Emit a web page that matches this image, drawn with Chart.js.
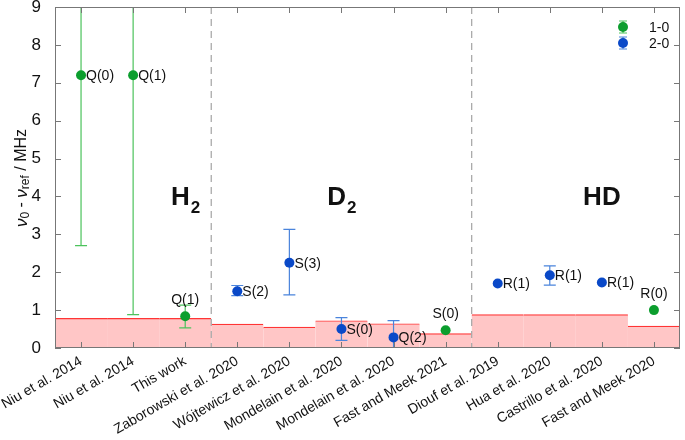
<!DOCTYPE html>
<html>
<head>
<meta charset="utf-8">
<script src="https://cdn.jsdelivr.net/npm/chart.js@4/dist/chart.umd.min.js"></script>
<style>
  html, body { margin: 0; padding: 0; background: #fff; }
  #wrap { width: 685px; height: 440px; }
</style>
</head>
<body>
<div id="wrap"><canvas id="c"></canvas></div>
<script>
// categories (references)
const labels = ['Niu et al. 2014', 'Niu et al. 2014', 'This work', 'Zaborowski et al. 2020',
  'Wójtewicz et al. 2020', 'Mondelain et al. 2020', 'Mondelain et al. 2020', 'Fast and Meek 2021',
  'Diouf et al. 2019', 'Hua et al. 2020', 'Castrillo et al. 2020', 'Fast and Meek 2020'];

// theory uncertainty band (MHz)
const band = [0.78, 0.78, 0.78, 0.63, 0.55, 0.72, 0.64, 0.38, 0.88, 0.88, 0.88, 0.58];

// measured differences, 1-0 and 2-0 bands
const band10 = [7.2, 7.2, 0.84, null, null, null, null, 0.47, null, null, null, 1.0];
const band20 = [null, null, null, 1.5, 2.25, 0.5, 0.28, null, 1.7, 1.92, 1.73, null];

// error bar ends
const errLo = [2.7, 0.88, 0.53, 1.38, 1.4, 0.2, -0.2, null, null, 1.66, null, null];
const errHi = [9.5, 9.5, 1.13, 1.65, 3.13, 0.8, 0.72, null, null, 2.17, null, null];

// transition tags
const tags = ['Q(0)', 'Q(1)', 'Q(1)', 'S(2)', 'S(3)', 'S(0)', 'Q(2)', 'S(0)', 'R(1)', 'R(1)', 'R(1)', 'R(0)'];
const tagAbove = [false, false, true, false, false, false, false, true, false, false, false, true];

const yTicks = [0, 1, 2, 3, 4, 5, 6, 7, 8, 9];
const groups = [['H', '2', 2], ['D', '2', 5], ['HD', '', 10]];
const dividers = [2.5, 7.5];

const GREEN = '#0c9e2e', GREEN_L = '#4cc35c';
const BLUE = '#0a49c8', BLUE_L = '#4a84dc';
const FONT = '"Liberation Sans", Arial, Helvetica, sans-serif';

const decor = {
  id: 'decor',
  afterDatasetDraw(chart, args) {
    if (args.index !== 0) return;
    const ctx = chart.ctx, x = chart.scales.x, y = chart.scales.y, a = chart.chartArea;
    ctx.save();
    ctx.beginPath();
    ctx.rect(a.left, a.top, a.right - a.left, a.bottom - a.top);
    ctx.clip();
    // dashed dividers
    ctx.strokeStyle = '#aaaaaa';
    ctx.lineWidth = 1.3;
    ctx.setLineDash([7, 5]);
    dividers.forEach(d => {
      const px = (x.getPixelForValue(Math.floor(d)) + x.getPixelForValue(Math.ceil(d))) / 2;
      ctx.beginPath(); ctx.moveTo(px, a.top); ctx.lineTo(px, a.bottom); ctx.stroke();
    });
    ctx.setLineDash([]);
    // error bars
    labels.forEach((_, i) => {
      if (errLo[i] == null) return;
      const px = x.getPixelForValue(i);
      ctx.strokeStyle = band10[i] != null ? GREEN_L : BLUE_L;
      ctx.lineWidth = 1.2;
      const y1 = y.getPixelForValue(errLo[i]), y2 = y.getPixelForValue(errHi[i]);
      ctx.beginPath();
      ctx.moveTo(px, y1); ctx.lineTo(px, y2);
      ctx.moveTo(px - 6, y1); ctx.lineTo(px + 6, y1);
      ctx.moveTo(px - 6, y2); ctx.lineTo(px + 6, y2);
      ctx.stroke();
    });
    ctx.restore();
  },
  afterDraw(chart) {
    const ctx = chart.ctx, x = chart.scales.x, y = chart.scales.y, a = chart.chartArea;
    ctx.save();
    // frame
    ctx.strokeStyle = '#777777';
    ctx.lineWidth = 1;
    ctx.strokeRect(a.left + 0.5, a.top + 0.5, a.right - a.left - 1, a.bottom - a.top - 1);
    // inward ticks
    ctx.beginPath();
    labels.forEach((_, i) => {
      const px = Math.round(x.getPixelForValue(i)) + 0.5;
      ctx.moveTo(px, a.bottom); ctx.lineTo(px, a.bottom - 6);
      ctx.moveTo(px, a.top); ctx.lineTo(px, a.top + 6);
    });
    yTicks.forEach(v => {
      const py = Math.round(y.getPixelForValue(v)) + 0.5;
      ctx.moveTo(a.left, py); ctx.lineTo(a.left + 6, py);
      ctx.moveTo(a.right, py); ctx.lineTo(a.right - 6, py);
    });
    ctx.stroke();
    // tags next to points
    ctx.fillStyle = '#111';
    ctx.font = '14px ' + FONT;
    labels.forEach((_, i) => {
      const v = band10[i] != null ? band10[i] : band20[i];
      const px = x.getPixelForValue(i), py = y.getPixelForValue(v);
      if (tagAbove[i]) {
        ctx.textAlign = 'center'; ctx.textBaseline = 'alphabetic';
        ctx.fillText(tags[i], px, py - 12);
      } else {
        ctx.textAlign = 'left'; ctx.textBaseline = 'middle';
        ctx.fillText(tags[i], px + 5, py + 1);
      }
    });
    // group names
    groups.forEach(g => {
      const px = x.getPixelForValue(g[2]);
      ctx.font = 'bold 26px ' + FONT;
      const w1 = ctx.measureText(g[0]).width;
      ctx.font = 'bold 17px ' + FONT;
      const w2 = g[1] ? ctx.measureText(g[1]).width : 0;
      const x0 = px - (w1 + w2) / 2;
      ctx.textAlign = 'left'; ctx.textBaseline = 'alphabetic';
      ctx.font = 'bold 26px ' + FONT;
      ctx.fillText(g[0], x0, 205);
      if (g[1]) { ctx.font = 'bold 17px ' + FONT; ctx.fillText(g[1], x0 + w1 + 1, 213); }
    });
    // legend
    [[GREEN, GREEN_L, '1-0', 27], [BLUE, BLUE_L, '2-0', 43]].forEach(l => {
      const lx = 623, ly = l[3];
      ctx.strokeStyle = l[1]; ctx.lineWidth = 1.2;
      ctx.beginPath();
      ctx.moveTo(lx, ly - 6); ctx.lineTo(lx, ly + 6);
      ctx.moveTo(lx - 4, ly - 6); ctx.lineTo(lx + 4, ly - 6);
      ctx.moveTo(lx - 4, ly + 6); ctx.lineTo(lx + 4, ly + 6);
      ctx.stroke();
      ctx.fillStyle = l[0];
      ctx.beginPath(); ctx.arc(lx, ly, 5, 0, Math.PI * 2); ctx.fill();
      ctx.fillStyle = '#111'; ctx.font = '14px ' + FONT;
      ctx.textAlign = 'left'; ctx.textBaseline = 'middle';
      ctx.fillText(l[2], 649, ly + 1);
    });
    // y title: nu_0 - nu_ref / MHz
    ctx.translate(22, 178);
    ctx.rotate(-Math.PI / 2);
    const parts = [['ν', 'italic 17px', 0], ['0', '12px', 4], [' - ', '16px', 0], ['ν', 'italic 17px', 0], ['ref', '12px', 4], [' / MHz', '16px', 0]];
    let tw = 0;
    parts.forEach(p => { ctx.font = p[1] + ' ' + FONT; tw += ctx.measureText(p[0]).width; });
    let cx = -tw / 2;
    ctx.textAlign = 'left'; ctx.textBaseline = 'middle';
    parts.forEach(p => {
      ctx.font = p[1] + ' ' + FONT;
      ctx.fillText(p[0], cx, p[2]);
      cx += ctx.measureText(p[0]).width;
    });
    ctx.restore();
  }
};

new Chart(document.getElementById('c'), {
  type: 'bar',
  data: {
    labels: labels,
    datasets: [
      {
        type: 'bar', data: band, order: 3,
        backgroundColor: '#ffc6c6', borderColor: '#ff3535',
        borderWidth: { top: 1.2, left: 0, right: 0, bottom: 0 }, borderSkipped: false,
        barPercentage: 1, categoryPercentage: 1
      },
      {
        type: 'line', data: band10, order: 1, showLine: false,
        pointRadius: 5, pointBackgroundColor: GREEN, pointBorderWidth: 0
      },
      {
        type: 'line', data: band20, order: 2, showLine: false,
        pointRadius: 5, pointBackgroundColor: BLUE, pointBorderWidth: 0
      }
    ]
  },
  options: {
    responsive: true,
    maintainAspectRatio: false,
    animation: false,
    layout: { padding: { top: 7, right: 1, left: 0, bottom: 0 } },
    plugins: { legend: { display: false }, tooltip: { enabled: false } },
    scales: {
      x: {
        offset: true,
        grid: { display: false },
        border: { display: false },
        ticks: {
          color: '#111', font: { family: FONT, size: 14 },
          maxRotation: 30, minRotation: 30, autoSkip: false, padding: -3
        },
        afterFit(s) { s.height = 92; s.paddingLeft = 0; s.paddingRight = 0; }
      },
      y: {
        min: 0, max: 9,
        grid: { display: false },
        border: { display: false },
        ticks: { stepSize: 1, color: '#111', font: { family: FONT, size: 17 }, padding: 6 },
        afterFit(s) { s.width = 55; s.paddingTop = 0; s.paddingBottom = 0; }
      }
    }
  },
  plugins: [decor]
});
</script>
</body>
</html>
